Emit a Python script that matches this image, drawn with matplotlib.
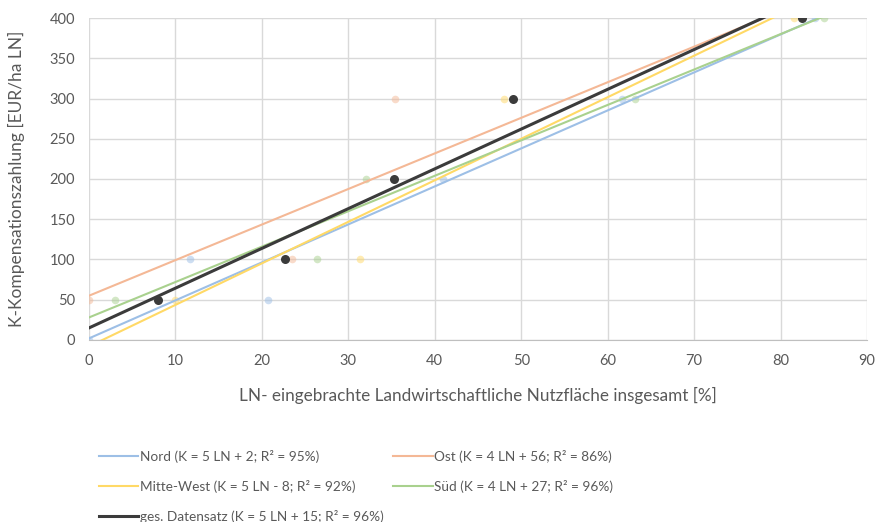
import numpy as np
import matplotlib.pyplot as plt

plt.rcParams['font.family'] = ['Lato', 'DejaVu Sans']

# Observations per region: LN share [%] and compensation [EUR/ha LN]
nord_ln = [0.0, 11.7, 20.7, 40.9, 61.7, 84.0]
nord_k = [0, 100, 50, 200, 300, 400]
ost_ln = [0.0, 23.5, 35.4]
ost_k = [50, 100, 300]
mw_ln = [10.0, 31.4, 48.0, 81.5]
mw_k = [50, 100, 300, 400]
sued_ln = [3.0, 26.4, 32.0, 63.2, 85.0]
sued_k = [50, 100, 200, 300, 400]
ges_ln = [8.0, 22.7, 35.3, 49.0, 82.5]
ges_k = [50, 100, 200, 300, 400]

# Linear trend lines (slope, intercept)
names = ['Nord', 'Ost', 'Mitte-West', 'Süd', 'ges. Datensatz']
slopes = [4.72, 4.42, 5.16, 4.40, 4.94]
intercepts = [2, 55, -8, 28, 15]
labels = [
    'Nord (K = 5 LN + 2; R² = 95%)',
    'Ost (K = 4 LN + 56; R² = 86%)',
    'Mitte-West (K = 5 LN - 8; R² = 92%)',
    'Süd (K = 4 LN + 27; R² = 96%)',
    'ges. Datensatz (K = 5 LN + 15; R² = 96%)',
]

x_ticks = np.arange(0, 91, 10)
y_ticks = np.arange(0, 401, 50)

colors = ['#9dbfe6', '#f4b896', '#ffd966', '#a9d18e', '#3b3b3b']
widths = [1.5, 1.5, 1.5, 1.5, 2.2]
points = [(nord_ln, nord_k), (ost_ln, ost_k), (mw_ln, mw_k),
          (sued_ln, sued_k), (ges_ln, ges_k)]

fig = plt.figure(figsize=(8.77, 5.22), dpi=100)
ax = fig.add_axes([0.1015, 0.3487, 0.8871, 0.6168])

handles = []
for i in range(5):
    xs, ks = points[i]
    if i < 4:
        ax.plot(xs, ks, 'o', color=colors[i], ms=5.5, alpha=0.5, mec='none', zorder=2)
    else:
        ax.plot(xs, ks, 'o', color=colors[i], ms=6.5, mec='none', zorder=4)
    xx = np.linspace(0, 90, 200)
    yy = slopes[i] * xx + intercepts[i]
    h, = ax.plot(xx, yy, color=colors[i], lw=widths[i], zorder=3, label=labels[i])
    handles.append(h)

ax.set_xlim(0, 90)
ax.set_ylim(0, 400)
ax.set_xticks(x_ticks)
ax.set_yticks(y_ticks)
ax.grid(True, color='#d9d9d9', lw=1)
ax.set_axisbelow(True)
for s in ['top', 'right', 'left']:
    ax.spines[s].set_visible(False)
ax.spines['bottom'].set_color('#bfbfbf')
ax.tick_params(length=0, labelsize=10.5, labelcolor='#595959', pad=10)

ax.set_xlabel('LN- eingebrachte Landwirtschaftliche Nutzfläche insgesamt [%]',
              fontsize=12.3, color='#595959', labelpad=14)
ax.set_ylabel('K-Kompensationszahlung [EUR/ha LN]', fontsize=12.5, color='#595959', labelpad=18)

order = [0, 2, 4, 1, 3]
fig.legend([handles[i] for i in order], [labels[i] for i in order],
           ncol=2, loc='upper left', bbox_to_anchor=(0.102, 0.157),
           frameon=False, fontsize=9.8, labelcolor='#595959',
           handlelength=2.9, handletextpad=0.1, columnspacing=0.7,
           labelspacing=1.25, borderpad=0.2, bbox_transform=fig.transFigure)

fig.savefig('out.png', dpi=100)
